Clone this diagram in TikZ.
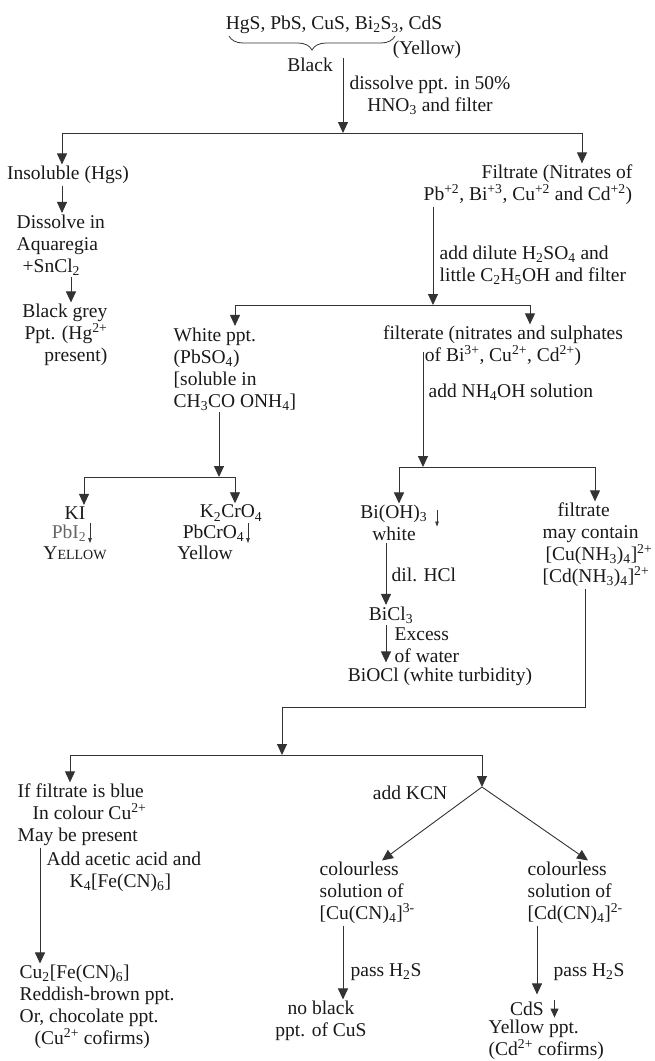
\documentclass[tikz,border=0pt]{standalone}
\usepackage{fontspec}
\setmainfont{Liberation Serif}
\usepackage{tikz}
\usetikzlibrary{arrows.meta,decorations.pathreplacing,calc}

\begin{document}
\begin{tikzpicture}[x=1pt, y=-1pt, >={Triangle[width=10pt,length=11pt]}, font=\fontsize{19.5}{22}\selectfont]
	\tikzset{txt/.style={inner sep=1.5pt, align=center, text=black!90}}
	\tikzset{lft/.style={inner sep=1.5pt, align=left, anchor=west, text=black!90}}
	\tikzset{flow/.style={->, draw=black!80, line width=0.9pt}}
	\tikzset{bar/.style={draw=black!80, line width=0.9pt}}
	\tikzset{ppt/.style={-{Triangle[width=3.5pt,length=5pt]}, draw=black!80, line width=0.6pt}}
	\useasboundingbox (0,0) rectangle (655,1061);
	% group precipitate and first split
	\node[txt] (sulf) at (334,25) {HgS, PbS, CuS, Bi\textsubscript{2}S\textsubscript{3}, CdS};
	\draw[decorate, decoration={brace, mirror, amplitude=14pt}, draw=black!80, line width=0.8pt] (229,36) -- (395,36);
	\node[txt] (yel) at (427,50) {(Yellow)};
	\node[txt] (blk) at (310,65) {Black};
	\coordinate (s1) at (343,58);
	\coordinate (j1) at (343,133);
	\coordinate (j1l) at (62,133);
	\coordinate (j1r) at (582,133);
	\draw[flow] (s1) -- (j1);
	\node[txt] (lbl1) at (430,95) {dissolve ppt. in 50\%\\HNO\textsubscript{3} and filter};
	\draw[bar] (j1l) -- (j1r);
	\node[txt] (insol) at (68,175) {Insoluble (Hgs)};
	\node[lft] (filt1) at (422,185) {\hspace{58pt}Filtrate (Nitrates of\\Pb\textsuperscript{+2}, Bi\textsuperscript{+3}, Cu\textsuperscript{+2} and Cd\textsuperscript{+2})};
	\draw[flow] (j1l) -- (j1l |- insol.north);
	\draw[flow] (j1r) -- (j1r |- filt1.north);
	% mercury
	\node[lft] (aqua) at (15,245) {Dissolve in\\Aquaregia\\\hspace{6pt}+SnCl\textsubscript{2}};
	\draw[flow] (insol.south -| j1l) -- (aqua.north -| j1l);
	\node[txt, align=right, anchor=east] (grey) at (109,335) {Black grey\\Ppt. (Hg\textsuperscript{2+}\\present)};
	\coordinate (a2) at (71,0);
	\draw[flow] (aqua.south -| a2) -- (grey.north -| a2);
	% lead
	\coordinate (j2) at (433,305);
	\coordinate (j2l) at (235,305);
	\coordinate (j2r) at (530,305);
	\draw[flow] (filt1.south -| j2) -- (j2);
	\node[lft] (lbl2) at (438,265) {add dilute H\textsubscript{2}SO\textsubscript{4} and\\little C\textsubscript{2}H\textsubscript{5}OH and filter};
	\draw[bar] (j2l) -- (j2r);
	\node[lft] (wppt) at (172,369) {White ppt.\\(PbSO\textsubscript{4})\\{[}soluble in\\CH\textsubscript{3}CO ONH\textsubscript{4}{]}};
	\node[txt] (filt2) at (503,346) {filterate (nitrates and sulphates\\of Bi\textsuperscript{3+}, Cu\textsuperscript{2+}, Cd\textsuperscript{2+})};
	\draw[flow] (j2l) -- (j2l |- wppt.north);
	\draw[flow] (j2r) -- (j2r |- filt2.north);
	\coordinate (j3) at (219,477);
	\coordinate (j3l) at (84,477);
	\coordinate (j3r) at (235,477);
	\draw[flow] (wppt.south -| j3) -- (j3);
	\draw[bar] (j3l) -- (j3r);
	\node[txt] (ki) at (75,513) {KI};
	\node[txt, anchor=east, text=black!60] (pbi) at (88,533) {PbI\textsubscript{2}};
	\node[txt] (yel1) at (75,553) {Y\fontsize{14}{14}\selectfont ELLOW};
	\draw[flow] (j3l) -- (j3l |- ki.north);
	\draw[ppt] ([xshift=2pt]pbi.north east) -- ([xshift=2pt]pbi.south east);
	\node[txt] (kcro) at (231,513) {K\textsubscript{2}CrO\textsubscript{4}};
	\node[txt, anchor=east] (pbcro) at (246,533) {PbCrO\textsubscript{4}};
	\node[txt] (yel2) at (205,553) {Yellow};
	\draw[flow] (j3r) -- (j3r |- kcro.north);
	\draw[ppt] ([xshift=2pt]pbcro.north east) -- ([xshift=2pt]pbcro.south east);
	% bismuth
	\coordinate (j4) at (423,467);
	\coordinate (j4l) at (399,467);
	\coordinate (j4r) at (595,467);
	\draw[flow] ([yshift=-6pt]filt2.center -| j4) -- (j4);
	\node[lft] (lbl3) at (427,392) {add NH\textsubscript{4}OH solution};
	\draw[bar] (j4l) -- (j4r);
	\node[txt, anchor=east] (bioh) at (429,514) {Bi(OH)\textsubscript{3}};
	\draw[ppt] ([xshift=8pt,yshift=4pt]bioh.east) -- ([xshift=8pt,yshift=-2pt]bioh.south east);
	\node[txt] (white) at (394,534) {white};
	\draw[flow] (j4l) -- (j4l |- bioh.north);
	\node[lft] (filt3) at (541,545) {\hspace{15pt}filtrate\\may contain\\\hspace{3pt}{[}Cu(NH\textsubscript{3})\textsubscript{4}{]}\textsuperscript{2+}\\{[}Cd(NH\textsubscript{3})\textsubscript{4}{]}\textsuperscript{2+}};
	\draw[flow] (j4r) -- (j4r |- filt3.north);
	\coordinate (b1) at (386,0);
	\node[txt] (bicl) at (391,615) {BiCl\textsubscript{3}};
	\node[lft] (lbl4) at (390,575) {dil. HCl};
	\draw[flow] (white.south -| b1) -- (bicl.north -| b1);
	\node[txt] (biocl) at (440,677) {BiOCl (white turbidity)};
	\node[lft] (lbl5) at (393,645) {Excess\\of water};
	\draw[flow] (bicl.south -| b1) -- ([yshift=4pt]biocl.north -| b1);
	% copper and cadmium
	\coordinate (k1) at (585,707);
	\coordinate (j5) at (282,755);
	\coordinate (j5l) at (70,755);
	\coordinate (j5r) at (482,755);
	\draw[flow] (filt3.south -| k1) -- (k1) -| (j5);
	\draw[bar] (j5l) -- (j5r);
	\node[lft] (blue) at (16,815) {If filtrate is blue\\\hspace{15pt}In colour Cu\textsuperscript{2+}\\May be present};
	\draw[flow] (j5l) -- (j5l |- blue.north);
	\coordinate (apex) at (482,787);
	\node[txt] (kcn) at (410,793) {add KCN};
	\draw[flow] (j5r) -- (apex);
	\coordinate (c1) at (40,0);
	\node[lft] (cufe) at (18,1007) {Cu\textsubscript{2}[Fe(CN)\textsubscript{6}]\\Reddish-brown ppt.\\Or, chocolate ppt.\\\hspace{15pt}(Cu\textsuperscript{2+} cofirms)};
	\draw[flow] (blue.south -| c1) -- (cufe.north -| c1);
	\node[lft] (lbl6) at (45,872) {Add acetic acid and\\\hspace{23pt}K\textsubscript{4}[Fe(CN)\textsubscript{6}]};
	\node[lft] (cucn) at (318,893) {colourless\\solution of\\{[}Cu(CN)\textsubscript{4}{]}\textsuperscript{3-}};
	\node[lft] (cdcn) at (526,893) {colourless\\solution of\\{[}Cd(CN)\textsubscript{4}{]}\textsuperscript{2-}};
	\coordinate (t1) at (382,0);
	\coordinate (t2) at (588,0);
	\draw[flow] (apex) -- (cucn.north -| t1);
	\draw[flow] (apex) -- (cdcn.north -| t2);
	\coordinate (c2) at (343,0);
	\node[txt] (nocus) at (321,1021) {no black\\ppt. of CuS};
	\node[lft] (lbl7) at (349,972) {pass H\textsubscript{2}S};
	\draw[flow] (cucn.south -| c2) -- (nocus.north -| c2);
	\coordinate (c3) at (537,0);
	\node[txt] (cds) at (527,1009) {CdS};
	\node[lft] (cdyel) at (487,1040) {Yellow ppt.\\(Cd\textsuperscript{2+} cofirms)};
	\node[lft] (lbl8) at (552,972) {pass H\textsubscript{2}S};
	\draw[flow] (cdcn.south -| c3) -- ([yshift=6pt]cds.north -| c3);
	\draw[flow, >={Triangle[width=8pt,length=9pt]}] ([xshift=9pt]cds.north east) -- ([xshift=9pt]cds.south east);
\end{tikzpicture}
\end{document}
